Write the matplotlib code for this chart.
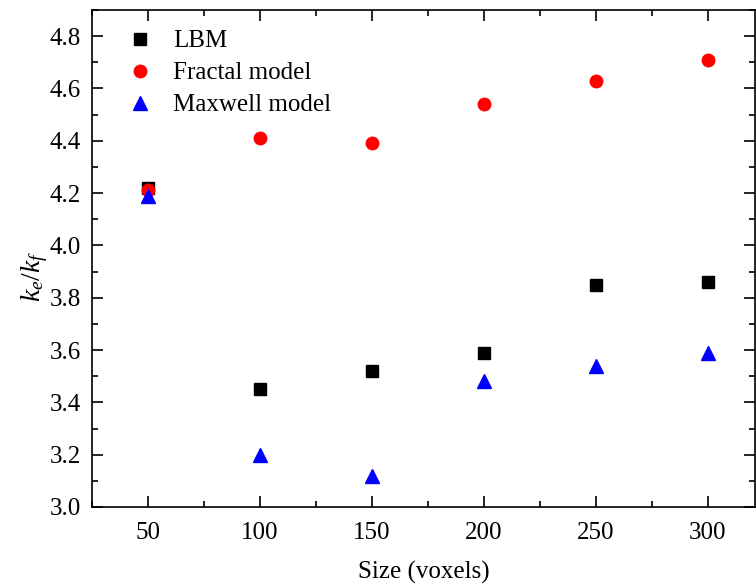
import numpy as np
import matplotlib.pyplot as plt
from matplotlib.ticker import MultipleLocator

plt.rcParams['font.family'] = 'Liberation Serif'
plt.rcParams['font.size'] = 18
plt.rcParams['mathtext.fontset'] = 'custom'
plt.rcParams['mathtext.it'] = 'Liberation Serif:italic'
plt.rcParams['mathtext.rm'] = 'Liberation Serif'

sizes = [50, 100, 150, 200, 250, 300]
lbm = [4.22, 3.45, 3.52, 3.59, 3.85, 3.86]
fractal = [4.21, 4.41, 4.39, 4.54, 4.63, 4.71]
maxwell = [4.19, 3.20, 3.12, 3.48, 3.54, 3.59]

fig = plt.figure(figsize=(7.56, 5.87), dpi=100)
ax = fig.add_axes([0.1217, 0.1363, 0.877, 0.8467])

ax.plot(sizes, lbm, 's', color='black', markersize=8, label='LBM', linestyle='none')
ax.plot(sizes, fractal, 'o', color='red', markersize=9, label='Fractal model', linestyle='none')
ax.plot(sizes, maxwell, '^', color='blue', markersize=9.5, label='Maxwell model', linestyle='none')

ax.set_xlim(25, 321)
ax.set_ylim(3.0, 4.9)
ax.xaxis.set_major_locator(MultipleLocator(50))
ax.xaxis.set_minor_locator(MultipleLocator(25))
ax.yaxis.set_major_locator(MultipleLocator(0.2))
ax.yaxis.set_minor_locator(MultipleLocator(0.1))
ax.tick_params(which='both', direction='in', top=True, right=True, width=1.2)
ax.tick_params(which='major', length=8, pad=8, labelsize=18)
ax.tick_params(axis='x', which='major', pad=11)
ax.tick_params(which='minor', length=4)
for s in ax.spines.values():
    s.set_linewidth(1.2)

ax.set_xlabel('Size (voxels)', fontsize=18, labelpad=12)
ax.set_ylabel('$k_e/k_f$', fontsize=20)
ax.yaxis.set_label_coords(-0.064, 0.465)

ax.legend(loc='upper left', frameon=False, fontsize=18, handletextpad=0.3,
          borderaxespad=0.3, labelspacing=0.38, bbox_to_anchor=(0.009, 0.995))

fig.savefig('out.png', dpi=100)
